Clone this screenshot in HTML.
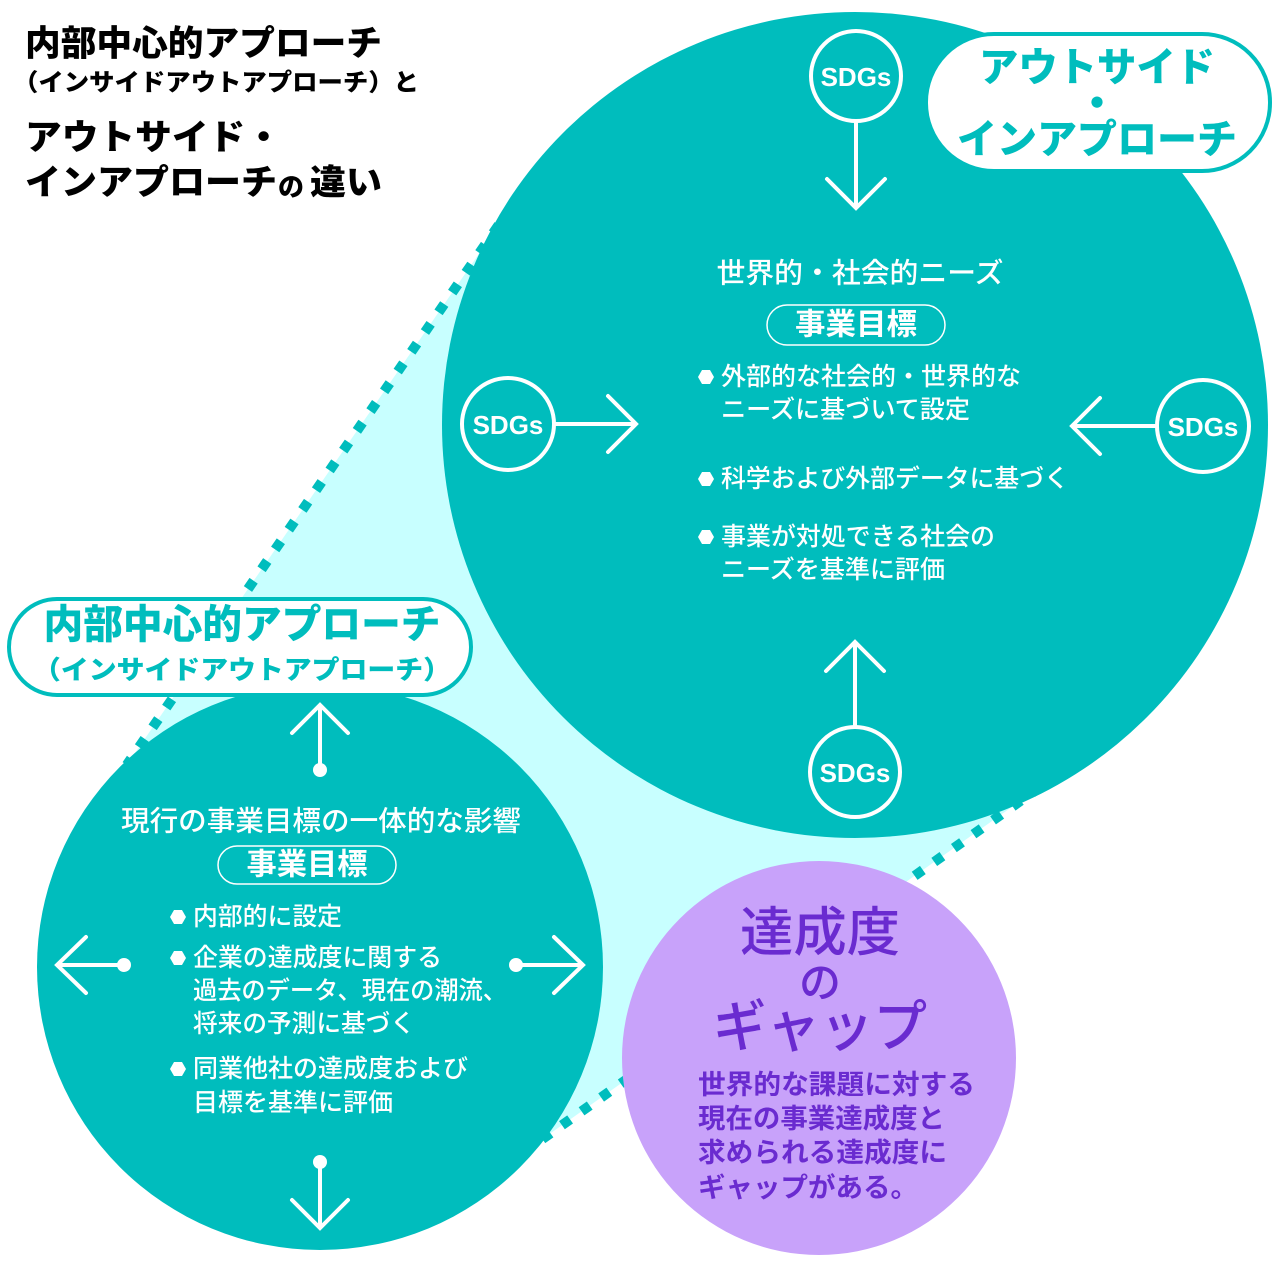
<!DOCTYPE html>
<html>
<head>
<meta charset="utf-8">
<style>
html,body{margin:0;padding:0;background:#fff;}
svg{display:block;}
text{font-family:"Liberation Sans","Noto Sans CJK JP",sans-serif;}
</style>
</head>
<body>
<svg width="1280" height="1280" viewBox="0 0 1280 1280" xmlns="http://www.w3.org/2000/svg">
  <rect x="0" y="0" width="1280" height="1280" fill="#ffffff"/>

  <!-- light cyan region between circles -->
  <polygon points="498.7,225 1060,773 500,1169 126.7,765" fill="#c8ffff"/>

  <!-- dotted tangent lines -->
  <line x1="498.7" y1="225" x2="126.7" y2="765" stroke="#00bdbd" stroke-width="10" stroke-dasharray="10 14"/>
  <line x1="1060" y1="773" x2="500" y2="1169" stroke="#00bdbd" stroke-width="10" stroke-dasharray="10 14"/>

  <!-- big circle -->
  <circle cx="855" cy="425" r="413" fill="#00bdbd"/>
  <!-- small circle -->
  <circle cx="320" cy="967" r="283" fill="#00bdbd"/>
  <!-- purple ellipse -->
  <ellipse cx="819" cy="1058" rx="197" ry="197" fill="#c8a2fa"/>

  <!-- Title -->
  <g fill="#000" font-weight="900">
    <text x="25" y="44" font-size="35" dominant-baseline="central" textLength="357" lengthAdjust="spacingAndGlyphs">内部中心的アプローチ</text>
    <text x="13" y="83" font-size="24" dominant-baseline="central" textLength="406" lengthAdjust="spacingAndGlyphs">（インサイドアウトアプローチ）と</text>
    <text x="25" y="138" font-size="35" dominant-baseline="central" textLength="257" lengthAdjust="spacingAndGlyphs">アウトサイド・</text>
    <text x="25" y="183" font-size="35" dominant-baseline="central" textLength="252" lengthAdjust="spacingAndGlyphs">インアプローチ</text>
    <text x="278" y="187" font-size="26" dominant-baseline="central">の</text>
    <text x="310" y="183" font-size="35" dominant-baseline="central" textLength="72" lengthAdjust="spacingAndGlyphs">違い</text>
  </g>

  <!-- Outside-in pill -->
  <rect x="926" y="34" width="344" height="137" rx="68" ry="68" fill="#fff" stroke="#00bdbd" stroke-width="4"/>
  <g fill="#00bdbd" font-weight="900" text-anchor="middle">
    <text x="1097" y="68" font-size="40" dominant-baseline="central" textLength="236" lengthAdjust="spacingAndGlyphs">アウトサイド</text>
    <text x="1097" y="104" font-size="40" dominant-baseline="central">・</text>
    <text x="1097" y="140" font-size="40" dominant-baseline="central" textLength="280" lengthAdjust="spacingAndGlyphs">インアプローチ</text>
  </g>

  <!-- Inside-out pill -->
  <rect x="9" y="599" width="462" height="96" rx="48" ry="48" fill="#fff" stroke="#00bdbd" stroke-width="4"/>
  <g fill="#00bdbd" font-weight="900" text-anchor="middle">
    <text x="242" y="625" font-size="40" dominant-baseline="central" textLength="397" lengthAdjust="spacingAndGlyphs">内部中心的アプローチ</text>
    <text x="242" y="670" font-size="26" dominant-baseline="central" textLength="418" lengthAdjust="spacingAndGlyphs">（インサイドアウトアプローチ）</text>
  </g>

  <!-- SDG circles -->
  <g fill="none" stroke="#fff" stroke-width="4">
    <circle cx="856" cy="76" r="45"/>
    <circle cx="508" cy="424" r="46"/>
    <circle cx="1203" cy="426" r="46"/>
    <circle cx="855" cy="772" r="45"/>
  </g>
  <g fill="#fff" font-weight="700" font-size="26" text-anchor="middle">
    <text x="856" y="77" dominant-baseline="central">SDGs</text>
    <text x="508" y="425" dominant-baseline="central">SDGs</text>
    <text x="1203" y="427" dominant-baseline="central">SDGs</text>
    <text x="855" y="773" dominant-baseline="central">SDGs</text>
  </g>

  <!-- Big circle arrows -->
  <g fill="none" stroke="#fff" stroke-width="4" stroke-linecap="round" stroke-linejoin="miter">
    <line x1="856" y1="121" x2="856" y2="207"/>
    <polyline points="827,179 856,208 885,179"/>
    <line x1="554" y1="424" x2="635" y2="424"/>
    <polyline points="608,396 636,424 608,452"/>
    <line x1="1157" y1="426" x2="1073" y2="426"/>
    <polyline points="1100,398 1072,426 1100,454"/>
    <line x1="855" y1="727" x2="855" y2="643"/>
    <polyline points="826,671 855,642 884,671"/>
  </g>

  <!-- Small circle arrows -->
  <g fill="none" stroke="#fff" stroke-width="4" stroke-linecap="round" stroke-linejoin="miter">
    <line x1="320" y1="770" x2="320" y2="706"/>
    <polyline points="292,733 320,705 348,733"/>
    <line x1="124" y1="965" x2="58" y2="965"/>
    <polyline points="86,937 57,965 86,993"/>
    <line x1="516" y1="965" x2="582" y2="965"/>
    <polyline points="554,937 583,965 554,993"/>
    <line x1="320" y1="1162" x2="320" y2="1227"/>
    <polyline points="292,1200 320,1228 348,1200"/>
  </g>
  <g fill="#fff">
    <circle cx="320" cy="770" r="7"/>
    <circle cx="124" cy="965" r="7"/>
    <circle cx="516" cy="965" r="7"/>
    <circle cx="320" cy="1162" r="7"/>
  </g>

  <!-- Big circle text -->
  <g fill="#fff" font-weight="500">
    <text x="860" y="273" font-size="28" text-anchor="middle" dominant-baseline="central" textLength="287" lengthAdjust="spacingAndGlyphs">世界的・社会的ニーズ</text>
    <text x="721" y="377" font-size="25" dominant-baseline="central" textLength="300" lengthAdjust="spacingAndGlyphs">外部的な社会的・世界的な</text>
    <text x="721" y="410" font-size="25" dominant-baseline="central" textLength="249" lengthAdjust="spacingAndGlyphs">ニーズに基づいて設定</text>
    <text x="721" y="479" font-size="25" dominant-baseline="central" textLength="348" lengthAdjust="spacingAndGlyphs">科学および外部データに基づく</text>
    <text x="721" y="537" font-size="25" dominant-baseline="central" textLength="274" lengthAdjust="spacingAndGlyphs">事業が対処できる社会の</text>
    <text x="721" y="570" font-size="25" dominant-baseline="central" textLength="224" lengthAdjust="spacingAndGlyphs">ニーズを基準に評価</text>
  </g>
  <rect x="767" y="305" width="178" height="40" rx="20" ry="20" fill="none" stroke="#fff" stroke-width="1.5"/>
  <text x="856" y="325" font-size="30" font-weight="700" fill="#fff" text-anchor="middle" dominant-baseline="central" textLength="122" lengthAdjust="spacingAndGlyphs">事業目標</text>
  <g fill="#fff">
    <polygon points="698,377 702,370 710,370 714,377 710,384 702,384"/>
    <polygon points="698,479 702,472 710,472 714,479 710,486 702,486"/>
    <polygon points="698,537 702,530 710,530 714,537 710,544 702,544"/>
  </g>

  <!-- Small circle text -->
  <g fill="#fff" font-weight="500">
    <text x="321" y="821" font-size="28" text-anchor="middle" dominant-baseline="central" textLength="400" lengthAdjust="spacingAndGlyphs">現行の事業目標の一体的な影響</text>
    <text x="193" y="917" font-size="25" dominant-baseline="central" textLength="149" lengthAdjust="spacingAndGlyphs">内部的に設定</text>
    <text x="193" y="958" font-size="25" dominant-baseline="central" textLength="249" lengthAdjust="spacingAndGlyphs">企業の達成度に関する</text>
    <text x="193" y="991" font-size="25" dominant-baseline="central" textLength="314" lengthAdjust="spacingAndGlyphs">過去のデータ、現在の潮流、</text>
    <text x="193" y="1024" font-size="25" dominant-baseline="central" textLength="222" lengthAdjust="spacingAndGlyphs">将来の予測に基づく</text>
    <text x="193" y="1069" font-size="25" dominant-baseline="central" textLength="275" lengthAdjust="spacingAndGlyphs">同業他社の達成度および</text>
    <text x="193" y="1103" font-size="25" dominant-baseline="central" textLength="200" lengthAdjust="spacingAndGlyphs">目標を基準に評価</text>
  </g>
  <rect x="218" y="846" width="178" height="38" rx="19" ry="19" fill="none" stroke="#fff" stroke-width="1.5"/>
  <text x="307" y="865" font-size="30" font-weight="700" fill="#fff" text-anchor="middle" dominant-baseline="central" textLength="121" lengthAdjust="spacingAndGlyphs">事業目標</text>
  <g fill="#fff">
    <polygon points="170,917 174,910 182,910 186,917 182,924 174,924"/>
    <polygon points="170,958 174,951 182,951 186,958 182,965 174,965"/>
    <polygon points="170,1069 174,1062 182,1062 186,1069 182,1076 174,1076"/>
  </g>

  <!-- Purple text -->
  <g fill="#6a2bd0" text-anchor="middle" font-weight="500">
    <text x="820" y="933" font-size="53" dominant-baseline="central" textLength="160" lengthAdjust="spacingAndGlyphs">達成度</text>
    <text x="820" y="983" font-size="42" dominant-baseline="central">の</text>
    <text x="820" y="1027" font-size="56" dominant-baseline="central" textLength="214" lengthAdjust="spacingAndGlyphs">ギャップ</text>
  </g>
  <g fill="#6a2bd0" font-weight="700">
    <text x="698" y="1085" font-size="27" dominant-baseline="central" textLength="277" lengthAdjust="spacingAndGlyphs">世界的な課題に対する</text>
    <text x="698" y="1119" font-size="27" dominant-baseline="central" textLength="247" lengthAdjust="spacingAndGlyphs">現在の事業達成度と</text>
    <text x="698" y="1153" font-size="27" dominant-baseline="central" textLength="249" lengthAdjust="spacingAndGlyphs">求められる達成度に</text>
    <text x="698" y="1188" font-size="27" dominant-baseline="central" textLength="220" lengthAdjust="spacingAndGlyphs">ギャップがある。</text>
  </g>
</svg>
</body>
</html>
